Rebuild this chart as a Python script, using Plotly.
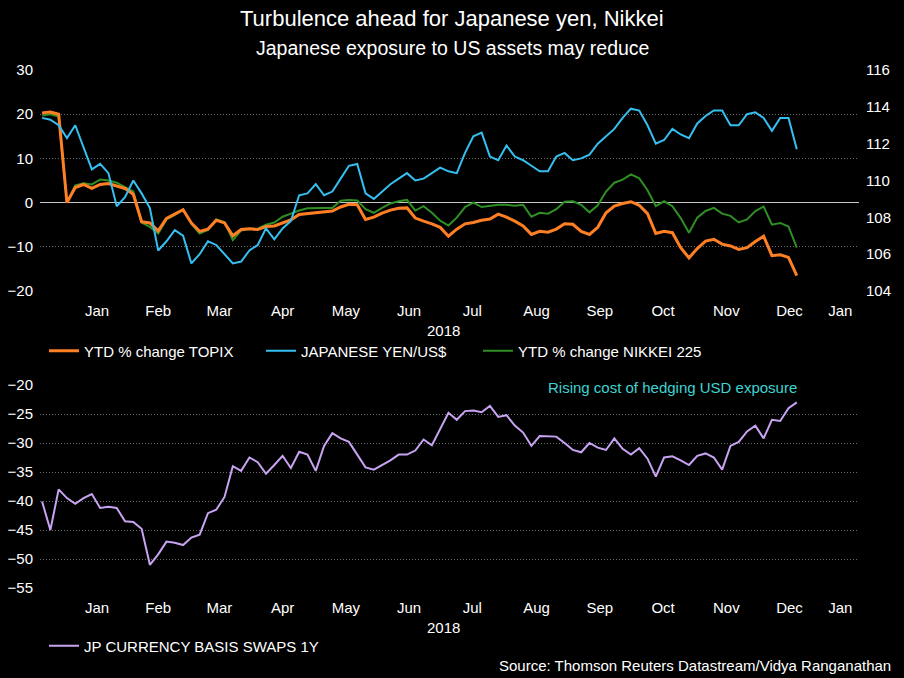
import pandas as pd
import plotly.graph_objects as go

# ---------------- data ----------------
# one observation every 4 days, 21 Dec 2017 .. 20 Dec 2018
dates = pd.date_range("2017-12-21", periods=92, freq="4D")

topix_ytd = [20.3, 20.5, 20.0, 0.0, 3.4, 4.1, 3.2, 4.1, 4.3, 3.8,
             3.2, 1.9, -4.3, -4.6, -6.4, -3.6, -2.6, -1.6, -4.6, -6.5,
             -6.0, -4.0, -4.6, -7.5, -6.1, -5.9, -6.1, -5.4, -5.3, -4.6,
             -3.9, -2.7, -2.5, -2.3, -2.1, -1.9, -1.0, -0.4, -0.5, -3.8,
             -3.3, -2.4, -1.7, -1.3, -1.2, -3.5, -4.2, -4.8, -5.6, -7.6,
             -6.0, -4.8, -4.5, -4.0, -3.7, -2.6, -3.3, -4.2, -5.3, -7.2,
             -6.5, -6.7, -6.0, -4.8, -4.9, -6.5, -7.2, -5.6, -2.3, -0.8,
             -0.2, 0.2, -0.6, -2.5, -7.0, -6.5, -6.8, -10.2, -12.5, -10.4,
             -8.7, -8.3, -9.4, -9.8, -10.6, -10.2, -8.8, -7.6, -12.0, -11.8,
             -12.4, -16.5]

nikkei_ytd = [19.7, 20.0, 19.5, 0.0, 3.9, 4.4, 4.1, 5.2, 5.0, 4.5,
              3.5, 2.5, -4.5, -5.5, -7.0, -3.8, -2.8, -1.6, -4.8, -7.0,
              -6.2, -3.8, -4.4, -8.5, -6.3, -6.0, -5.9, -5.0, -4.5, -3.2,
              -2.5, -1.8, -1.3, -1.2, -1.2, -1.2, 0.4, 0.6, 0.5, -1.5,
              -2.3, -1.2, -0.2, 0.3, 0.6, -1.8, -0.8, -2.3, -4.1, -5.2,
              -3.4, -1.0, 0.0, -1.0, -0.8, -0.5, -0.5, -0.7, -0.5, -3.2,
              -2.3, -2.5, -1.5, 0.2, 0.3, -0.5, -2.2, -0.6, 2.5, 4.5,
              5.2, 6.4, 5.5, 2.8, -0.8, 0.3, -0.8, -3.5, -6.8, -3.4,
              -1.9, -1.2, -2.5, -3.0, -4.5, -3.8, -1.9, -0.9, -5.0, -4.6,
              -5.4, -10.2]

yen_usd = [113.4, 113.3, 113.0, 112.3, 113.0, 111.8, 110.6, 110.9, 110.4, 108.6,
           109.1, 110.0, 109.3, 108.5, 106.2, 106.7, 107.3, 107.0, 105.5, 106.0,
           106.7, 106.5, 106.0, 105.5, 105.6, 106.2, 106.5, 107.4, 106.8, 107.4,
           107.8, 109.2, 109.3, 109.8, 109.2, 109.4, 110.1, 110.8, 110.9, 109.3,
           109.0, 109.4, 109.8, 110.1, 110.4, 110.0, 110.1, 110.4, 110.7, 110.5,
           110.4, 111.5, 112.4, 112.6, 111.3, 111.1, 111.9, 111.3, 111.1, 110.8,
           110.5, 110.5, 111.3, 111.5, 111.1, 111.2, 111.4, 112.0, 112.4, 112.8,
           113.4, 113.9, 113.8, 113.0, 112.0, 112.2, 112.8, 112.5, 112.3, 113.1,
           113.5, 113.8, 113.8, 113.0, 113.0, 113.6, 113.7, 113.4, 112.7, 113.4,
           113.4, 111.7]

basis_swaps_1y = [-40.1, -45.0, -38.0, -39.5, -40.5, -39.5, -38.8, -41.2, -41.0, -41.2,
                  -43.5, -43.6, -44.8, -51.0, -49.2, -47.0, -47.2, -47.6, -46.3, -45.8,
                  -42.1, -41.5, -39.3, -34.0, -34.8, -32.5, -33.3, -35.3, -33.8, -32.2,
                  -34.3, -31.5, -32.0, -34.8, -30.5, -28.3, -29.2, -29.8, -32.0, -34.2,
                  -34.6, -33.8, -33.0, -32.0, -32.0, -31.3, -29.4, -30.4, -27.5, -24.8,
                  -26.0, -24.5, -24.4, -24.7, -23.6, -25.5, -25.2, -27.0, -28.2, -30.5,
                  -28.8, -28.9, -28.9, -30.0, -31.2, -31.6, -30.0, -30.8, -31.2, -29.2,
                  -31.0, -32.0, -30.9, -32.7, -35.8, -32.5, -32.3, -33.0, -33.8, -32.2,
                  -31.8, -32.5, -34.6, -30.5, -29.8, -28.0, -27.0, -29.2, -26.0, -26.2,
                  -24.0, -23.0]

month_labels = ["Jan", "Feb", "Mar", "Apr", "May", "Jun", "Jul",
                "Aug", "Sep", "Oct", "Nov", "Dec", "Jan"]
year_label = "2018"
left_ticks_top = [-20, -10, 0, 10, 20, 30]
right_ticks_top = [104, 106, 108, 110, 112, 114, 116]
ticks_bottom = [-55, -50, -45, -40, -35, -30, -25, -20]

# ---------------- layout helpers ----------------
W, H = 904, 678
FONT = "Liberation Sans, Arial, sans-serif"
x_start = pd.Timestamp("2017-12-20")
x_end = pd.Timestamp("2019-01-19")
month_starts = pd.date_range("2018-01-01", "2019-01-01", freq="MS")
month_ticks = []
for m in month_starts:
    nxt = m + pd.offsets.MonthBegin(1)
    stop = min(nxt, x_end)
    month_ticks.append(m + (stop - m) / 2)


def px_x(p):
    return p / W


def px_y(p):
    return 1 - p / H


xdom = [px_x(40), px_x(859)]
top_dom = [px_y(291), px_y(70)]
bot_dom = [px_y(588), px_y(385)]

ORANGE = "#ff7f24"
BLUE = "#35bff0"
GREEN = "#2f8f25"
LAVENDER = "#c7a3f2"
GRID = "#6a6a6a"
GRIDDASH = "1px,2px"

fig = go.Figure()
fig.add_trace(go.Scatter(x=dates, y=nikkei_ytd, name="YTD % change NIKKEI 225",
                         mode="lines", line=dict(color=GREEN, width=2),
                         xaxis="x", yaxis="y", legend="legend", legendrank=3))
fig.add_trace(go.Scatter(x=dates, y=topix_ytd, name="YTD % change TOPIX",
                         mode="lines", line=dict(color=ORANGE, width=3),
                         xaxis="x", yaxis="y", legend="legend", legendrank=1,
                         legendwidth=172))
fig.add_trace(go.Scatter(x=dates, y=yen_usd, name="JAPANESE YEN/US$",
                         mode="lines", line=dict(color=BLUE, width=2),
                         xaxis="x", yaxis="y2", legend="legend", legendrank=2,
                         legendwidth=172))
fig.add_trace(go.Scatter(x=dates, y=basis_swaps_1y, name="JP CURRENCY BASIS SWAPS 1Y",
                         mode="lines", line=dict(color=LAVENDER, width=2),
                         xaxis="x2", yaxis="y3", legend="legend2"))

tickfont = dict(family=FONT, size=15, color="white")
xcommon = dict(domain=xdom, range=[x_start, x_end], type="date",
               tickmode="array", tickvals=month_ticks, ticktext=month_labels,
               showgrid=False, zeroline=False, showline=False, ticks="",
               tickfont=tickfont, ticklabelstandoff=9, automargin=False)

fig.update_layout(
    width=W, height=H,
    margin=dict(l=0, r=0, t=0, b=0),
    template="none",
    paper_bgcolor="black", plot_bgcolor="black",
    font=dict(family=FONT, color="white"),
    showlegend=True,
    xaxis=dict(anchor="y", **xcommon),
    xaxis2=dict(anchor="y3", **xcommon),
    yaxis=dict(domain=top_dom, range=[-20, 30], tickmode="array",
               tickvals=left_ticks_top, showgrid=True, gridcolor=GRID,
               griddash=GRIDDASH, gridwidth=1, zeroline=True,
               zerolinecolor="#c8c8c8", zerolinewidth=1, showline=False,
               ticks="", tickfont=tickfont, ticklabelstandoff=6,
               automargin=False, anchor="x"),
    yaxis2=dict(domain=top_dom, range=[104, 116], tickmode="array",
                tickvals=right_ticks_top, overlaying="y", side="right",
                showgrid=False, zeroline=False, showline=False, ticks="",
                tickfont=tickfont, ticklabelstandoff=6, automargin=False,
                anchor="x"),
    yaxis3=dict(domain=bot_dom, range=[-55, -20], tickmode="array",
                tickvals=ticks_bottom, showgrid=True, gridcolor=GRID,
                griddash=GRIDDASH, gridwidth=1, zeroline=False, showline=False,
                ticks="", tickfont=tickfont, ticklabelstandoff=6,
                automargin=False, anchor="x2"),
    legend=dict(orientation="h", x=px_x(44), y=px_y(351), xanchor="left",
                yanchor="middle", font=dict(family=FONT, size=15, color="white"),
                bgcolor="rgba(0,0,0,0)", traceorder="normal"),
    legend2=dict(orientation="h", x=px_x(44), y=px_y(646), xanchor="left",
                 yanchor="middle", font=dict(family=FONT, size=15, color="white"),
                 bgcolor="rgba(0,0,0,0)"),
)

annotations = [
    dict(text="Turbulence ahead for Japanese yen, Nikkei", x=0.5, y=px_y(18),
         font=dict(size=22, color="white", family=FONT)),
    dict(text="Japanese exposure to US assets may reduce", x=0.5, y=px_y(48),
         font=dict(size=19.5, color="white", family=FONT)),
    dict(text=year_label, x=px_x(443), y=px_y(330),
         font=dict(size=15, color="white", family=FONT)),
    dict(text=year_label, x=px_x(443), y=px_y(627),
         font=dict(size=15, color="white", family=FONT)),
    dict(text="Rising cost of hedging USD exposure", x=px_x(672), y=px_y(387),
         font=dict(size=15, color="#3fd3d3", family=FONT), bgcolor="black"),
]
for a in annotations:
    fig.add_annotation(xref="paper", yref="paper", xanchor="center",
                       yanchor="middle", showarrow=False, **a)
fig.add_annotation(text="Source: Thomson Reuters Datastream/Vidya Ranganathan",
                   xref="paper", yref="paper", x=px_x(893), y=px_y(665),
                   xanchor="right", yanchor="middle", showarrow=False,
                   font=dict(size=15, color="white", family=FONT))

fig.write_html("out.html")
